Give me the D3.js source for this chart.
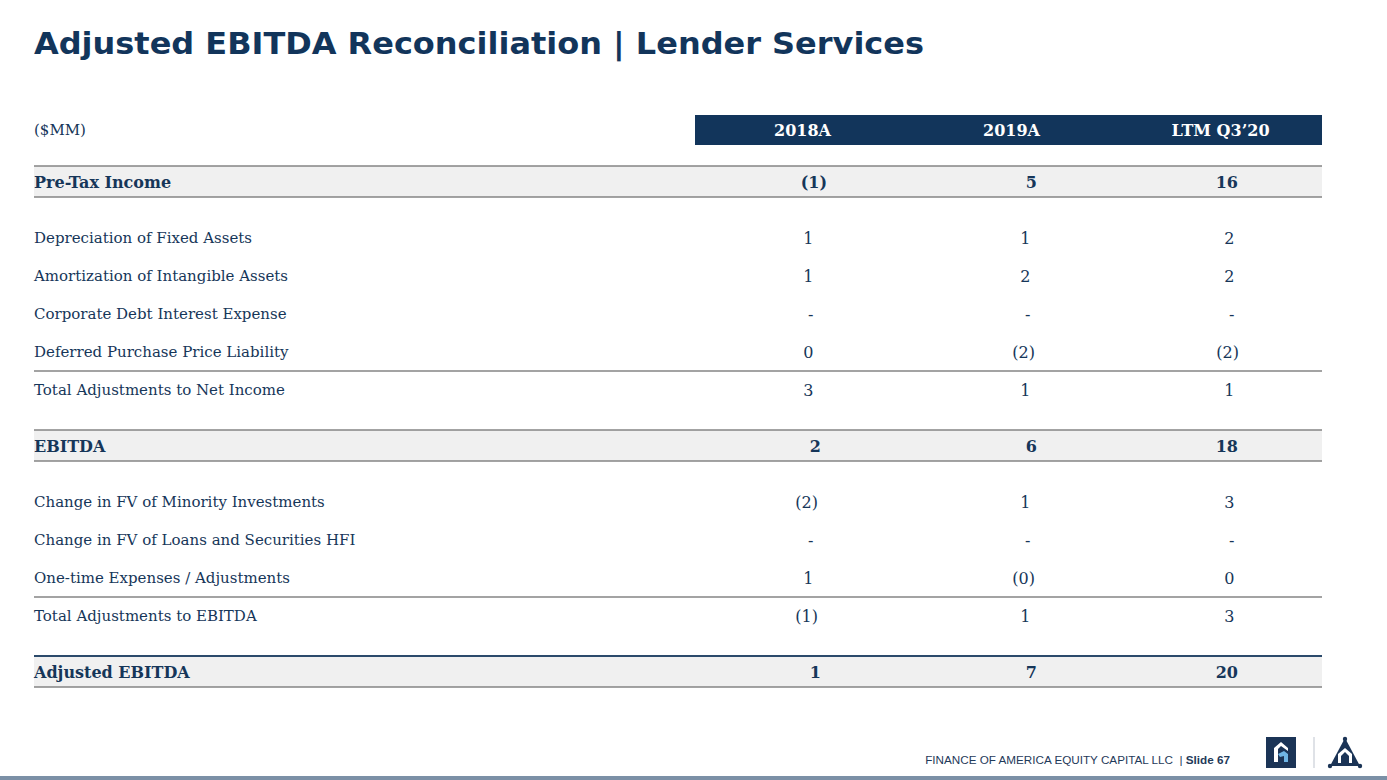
<!DOCTYPE html>
<html>
<head>
<meta charset="utf-8">
<script src="https://cdn.jsdelivr.net/npm/d3@7"></script>
<style>
  html, body { margin: 0; padding: 0; background: #ffffff; }
  svg { display: block; }
</style>
</head>
<body>
<svg id="chart" width="1387" height="780"></svg>
<script>
// ---- DATA ----
const title = "Adjusted EBITDA Reconciliation | Lender Services";
const unitLabel = "($MM)";
const columns = ["2018A", "2019A", "LTM Q3\u201920"];
const rowLabels = [
  "Pre-Tax Income",
  "Depreciation of Fixed Assets",
  "Amortization of Intangible Assets",
  "Corporate Debt Interest Expense",
  "Deferred Purchase Price Liability",
  "Total Adjustments to Net Income",
  "EBITDA",
  "Change in FV of Minority Investments",
  "Change in FV of Loans and Securities HFI",
  "One-time Expenses / Adjustments",
  "Total Adjustments to EBITDA",
  "Adjusted EBITDA"
];
const values2018 = [-1, 1, 1, null, 0.2, 3, 2, -2, null, 1, -1, 1];
const values2019 = [5, 1, 2, null, -2, 1, 6, 1, null, -0.3, 1, 7];
const valuesLTM  = [16, 2, 2, null, -2, 1, 18, 3, null, 0.3, 3, 20];
const rowKinds = ["total", "item", "item", "item", "item", "subtotal", "total", "item", "item", "item", "subtotal", "final"];
const footerText = "FINANCE OF AMERICA EQUITY CAPITAL LLC  | ";
const footerSlide = "Slide 67";

// ---- STYLE ----
const navy = "#12355b";
const textNavy = "#163659";
const bandFill = "#f0f0f0";
const ruleGray = "#858585";
const serif = "'DejaVu Serif', Georgia, serif";

const svg = d3.select("#chart");

// Title
svg.append("text")
  .attr("x", 34).attr("y", 54)
  .attr("textLength", 890).attr("lengthAdjust", "spacingAndGlyphs")
  .style("font-family", "'DejaVu Sans', Verdana, sans-serif")
  .style("font-weight", "bold").style("font-size", "31px")
  .attr("fill", navy)
  .text(title);

// Scales
const x = d3.scaleBand().domain(columns).range([698, 1325]);
// right-edge anchors of value text (closing paren position) per column
const valueRight = d3.scaleOrdinal().domain(columns).range([818, 1035, 1239]);
const boldRight = d3.scaleOrdinal().domain(columns).range([827, 1043, 1244]);
const bodyLeft = 34, bodyRight = 1322, headerLeft = 695;

// row positions: rows follow 38px steps, with extra gap around total rows
const gapUnits = 18 / 38;
const rowPos = [];
let acc = 0;
rowKinds.forEach((k, i) => {
  if (i > 0) {
    acc += 1;
    const prev = rowKinds[i - 1];
    if (k === "total" || k === "final" || prev === "total" || prev === "final") acc += gapUnits;
  }
  rowPos.push(acc);
});
const y = d3.scaleLinear().domain([0, 1]).range([182, 220]);
const isBold = k => k === "total" || k === "final";

// Header bar
svg.append("rect")
  .attr("x", headerLeft).attr("y", 115)
  .attr("width", bodyRight - headerLeft).attr("height", 30)
  .attr("fill", navy);
svg.selectAll("text.colhead").data(columns).join("text")
  .attr("class", "colhead")
  .attr("x", d => x(d) + x.bandwidth() / 2)
  .attr("y", 130).attr("dy", "0.35em")
  .attr("text-anchor", "middle")
  .style("font-family", serif).style("font-weight", "bold").style("font-size", "16px")
  .attr("fill", "#ffffff")
  .text(d => d);
svg.append("text")
  .attr("x", bodyLeft).attr("y", 130).attr("dy", "0.35em")
  .style("font-family", serif).style("font-size", "15px")
  .attr("fill", textNavy)
  .text(unitLabel);

// Row bands and rules
rowKinds.forEach((k, i) => {
  const cy = y(rowPos[i]);
  if (isBold(k)) {
    svg.append("rect").attr("x", bodyLeft).attr("y", cy - 16)
      .attr("width", bodyRight - bodyLeft).attr("height", 31).attr("fill", bandFill);
    svg.append("line").attr("x1", bodyLeft).attr("x2", bodyRight)
      .attr("y1", cy - 16).attr("y2", cy - 16)
      .attr("stroke", k === "final" ? "#2b4a6b" : ruleGray).attr("stroke-width", k === "final" ? 2 : 1.5);
    svg.append("line").attr("x1", bodyLeft).attr("x2", bodyRight)
      .attr("y1", cy + 15).attr("y2", cy + 15)
      .attr("stroke", ruleGray).attr("stroke-width", 1.5);
  }
  if (k === "subtotal") {
    svg.append("line").attr("x1", bodyLeft).attr("x2", bodyRight)
      .attr("y1", cy - 19).attr("y2", cy - 19)
      .attr("stroke", ruleGray).attr("stroke-width", 1.5);
  }
});

// Labels
svg.selectAll("text.rowlabel").data(rowLabels).join("text")
  .attr("class", "rowlabel")
  .attr("x", bodyLeft)
  .attr("y", (d, i) => y(rowPos[i])).attr("dy", "0.35em")
  .style("font-family", serif)
  .style("font-size", (d, i) => isBold(rowKinds[i]) ? "16px" : "15px")
  .style("font-weight", (d, i) => isBold(rowKinds[i]) ? "bold" : "normal")
  .attr("fill", textNavy)
  .text(d => d);

// Values
function fmt(v) {
  if (v === null) return "-";
  const r = Math.abs(Math.round(v));
  return v < 0 ? "(" + r + ")" : String(r);
}
const series = [values2018, values2019, valuesLTM];
series.forEach((vals, ci) => {
  const col = columns[ci];
  svg.selectAll("text.val" + ci).data(vals).join("text")
    .attr("class", "val" + ci)
    .attr("x", (v, i) => {
      const bold = isBold(rowKinds[i]);
      const r = bold ? boldRight(col) : valueRight(col);
      const neg = v !== null && v < 0;
      return neg ? r : r - (bold ? 6 : 4.5);
    })
    .attr("y", (v, i) => y(rowPos[i])).attr("dy", "0.35em")
    .attr("text-anchor", "end")
    .style("font-family", serif).style("font-size", "16px")
    .style("font-weight", (v, i) => isBold(rowKinds[i]) ? "bold" : "normal")
    .attr("fill", textNavy)
    .text(fmt);
});

// Footer
const ft = svg.append("text")
  .attr("x", 1230).attr("y", 764).attr("text-anchor", "end")
  .style("font-family", "'Liberation Sans', Arial, sans-serif").style("font-size", "11.7px")
  .attr("fill", "#1f3a5a");
ft.append("tspan").attr("xml:space", "preserve").text(footerText);
ft.append("tspan").style("font-weight", "bold").text(footerSlide);

// Logo 1: square with F-like mark
const lg = svg.append("g").attr("transform", "translate(1266,737)");
lg.append("rect").attr("width", 30).attr("height", 31).attr("fill", "#1b3456");
lg.append("path").attr("d", "M8,25 L8,11 L15,5 L22,11 L22,14 L15,9 L12,12 L12,25 Z").attr("fill", "#ffffff");
lg.append("path").attr("d", "M12,17 L18,14 L22,17 L22,25 L18,25 L18,19 L14,20 Z").attr("fill", "#6fb6e6");

// Divider
svg.append("line").attr("x1", 1314).attr("x2", 1314).attr("y1", 737).attr("y2", 768)
  .attr("stroke", "#d4d9df").attr("stroke-width", 1.5);

// Logo 2: triangle with house arch
const lt = svg.append("g").attr("transform", "translate(1345,757)");
lt.append("path").attr("d", "M0,-19 L15,9 L-15,9 Z").attr("fill", "#1b3456");
lt.append("path").attr("d", "M-7,6 L-7,-3 L0,-9 L7,-3 L7,6 Z").attr("fill", "#ffffff");
lt.append("path").attr("d", "M-4,6 L-4,-1 L0,-5 L4,-1 L4,6 Z").attr("fill", "#1b3456");
lt.append("circle").attr("cx", 0).attr("cy", -18).attr("r", 2.2).attr("fill", "#1b3456");
lt.append("circle").attr("cx", -15).attr("cy", 9).attr("r", 2.2).attr("fill", "#1b3456");
lt.append("circle").attr("cx", 15).attr("cy", 9).attr("r", 2.2).attr("fill", "#1b3456");

// Bottom bar
svg.append("rect").attr("x", 0).attr("y", 776).attr("width", 1387).attr("height", 4).attr("fill", "#7b90a6");
</script>
</body>
</html>
